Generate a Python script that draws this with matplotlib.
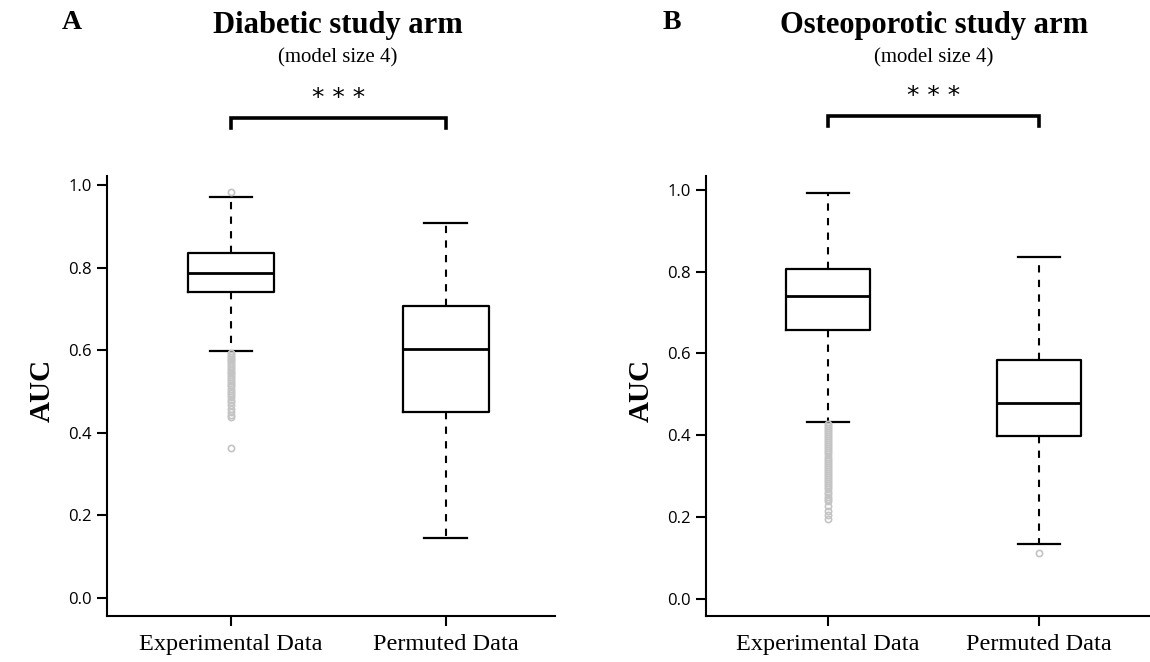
"""Boxplots of AUC, experimental vs permuted data, for the two study arms."""

import matplotlib

matplotlib.use("Agg")
import matplotlib.pyplot as plt

GROUPS = ["Experimental Data", "Permuted Data"]

# panel A: diabetic arm (whislo, q1, med, q3, whishi)
DIAB_EXP = [0.599, 0.742, 0.787, 0.836, 0.971]
DIAB_PERM = [0.145, 0.450, 0.603, 0.707, 0.907]
DIAB_EXP_OUT = [0.983, 0.592, 0.588, 0.583, 0.579, 0.575, 0.571, 0.566, 0.562, 0.557,
                0.553, 0.548, 0.544, 0.540, 0.535, 0.530, 0.526, 0.521, 0.516, 0.512,
                0.507, 0.502, 0.497, 0.491, 0.486, 0.480, 0.474, 0.466, 0.458, 0.449,
                0.443, 0.437, 0.362]
DIAB_PERM_OUT = []

# panel B: osteoporotic arm
OST_EXP = [0.433, 0.658, 0.741, 0.807, 0.993]
OST_PERM = [0.134, 0.399, 0.479, 0.584, 0.836]
OST_EXP_OUT = [0.428, 0.423, 0.418, 0.413, 0.408, 0.403, 0.398, 0.393, 0.388, 0.383,
               0.378, 0.373, 0.368, 0.363, 0.358, 0.353, 0.348, 0.343, 0.338, 0.333,
               0.328, 0.323, 0.318, 0.313, 0.308, 0.303, 0.298, 0.293, 0.288, 0.283,
               0.278, 0.273, 0.268, 0.262, 0.256, 0.250, 0.244, 0.238, 0.228, 0.214,
               0.205, 0.196]
OST_PERM_OUT = [0.113]

SERIF = "Liberation Serif"
SANS = "Open Sans"


def stats(five, out, label):
    lo, q1, med, q3, hi = five
    return {"whislo": lo, "q1": q1, "med": med, "q3": q3, "whishi": hi,
            "fliers": out, "label": label}


def panel(ax, exp, perm, exp_out, perm_out, xlim, ylim):
    bx = [stats(exp, exp_out, GROUPS[0]), stats(perm, perm_out, GROUPS[1])]
    ax.bxp(bx, positions=[1, 2], widths=0.4, showfliers=True,
           boxprops=dict(color="black", linewidth=1.6),
           medianprops=dict(color="black", linewidth=2.0),
           whiskerprops=dict(color="black", linewidth=1.5, linestyle=(0, (3.5, 3.5))),
           capprops=dict(color="black", linewidth=1.6),
           capwidths=0.2,
           flierprops=dict(marker="o", markersize=4.5, markerfacecolor="none",
                           markeredgecolor="#c4c4c4", markeredgewidth=1.2))
    ax.set_xlim(*xlim)
    ax.set_ylim(*ylim)
    ax.set_yticks([0.0, 0.2, 0.4, 0.6, 0.8, 1.0])
    ax.set_yticklabels([f"{v:.1f}" for v in [0.0, 0.2, 0.4, 0.6, 0.8, 1.0]],
                       fontfamily=SANS, fontsize=12)
    ax.set_xticks([1, 2])
    ax.set_xticklabels(GROUPS, fontfamily=SERIF, fontsize=17.5)
    for s in ("top", "right"):
        ax.spines[s].set_visible(False)
    for s in ("left", "bottom"):
        ax.spines[s].set_linewidth(1.5)
    ax.tick_params(axis="both", direction="out", length=7, width=1.5, pad=4)
    ax.tick_params(axis="x", pad=6)


def bracket(ax, y, drop):
    ax.plot([1, 1, 2, 2], [y - drop, y, y, y - drop], color="black", linewidth=2.6,
            clip_on=False, solid_joinstyle="miter")
    ax.text(1.5, y + 0.02, "* * *", ha="center", va="bottom", fontsize=18,
            fontfamily="DejaVu Sans")


fig = plt.figure(figsize=(11.5, 6.62), dpi=100)
ax1 = fig.add_axes([0.093, 0.0695, 0.3896, 0.6647])
ax2 = fig.add_axes([0.6139, 0.0695, 0.386, 0.6647])

panel(ax1, DIAB_EXP, DIAB_PERM, DIAB_EXP_OUT, DIAB_PERM_OUT, (0.423, 2.507), (-0.044, 1.022))
panel(ax2, OST_EXP, OST_PERM, OST_EXP_OUT, OST_PERM_OUT, (0.422, 2.526), (-0.042, 1.034))

bracket(ax1, 1.162, 0.024)
bracket(ax2, 1.181, 0.024)

for lx, tx, title, ylx in [(0.0626, 0.294, "Diabetic study arm", 0.0365),
                           (0.5845, 0.812, "Osteoporotic study arm", 0.558)]:
    fig.text(lx, 0.966, "A" if lx < 0.5 else "B", ha="center", va="center",
             fontfamily=SERIF, fontweight="bold", fontsize=20)
    fig.text(tx, 0.962, title, ha="center", va="center",
             fontfamily=SERIF, fontweight="bold", fontsize=22)
    fig.text(tx, 0.913, "(model size 4)", ha="center", va="center",
             fontfamily=SERIF, fontsize=15)
    fig.text(ylx, 0.41, "AUC", ha="center", va="center", rotation=90,
             fontfamily=SERIF, fontweight="bold", fontsize=21)

fig.savefig("out.png", dpi=100)
